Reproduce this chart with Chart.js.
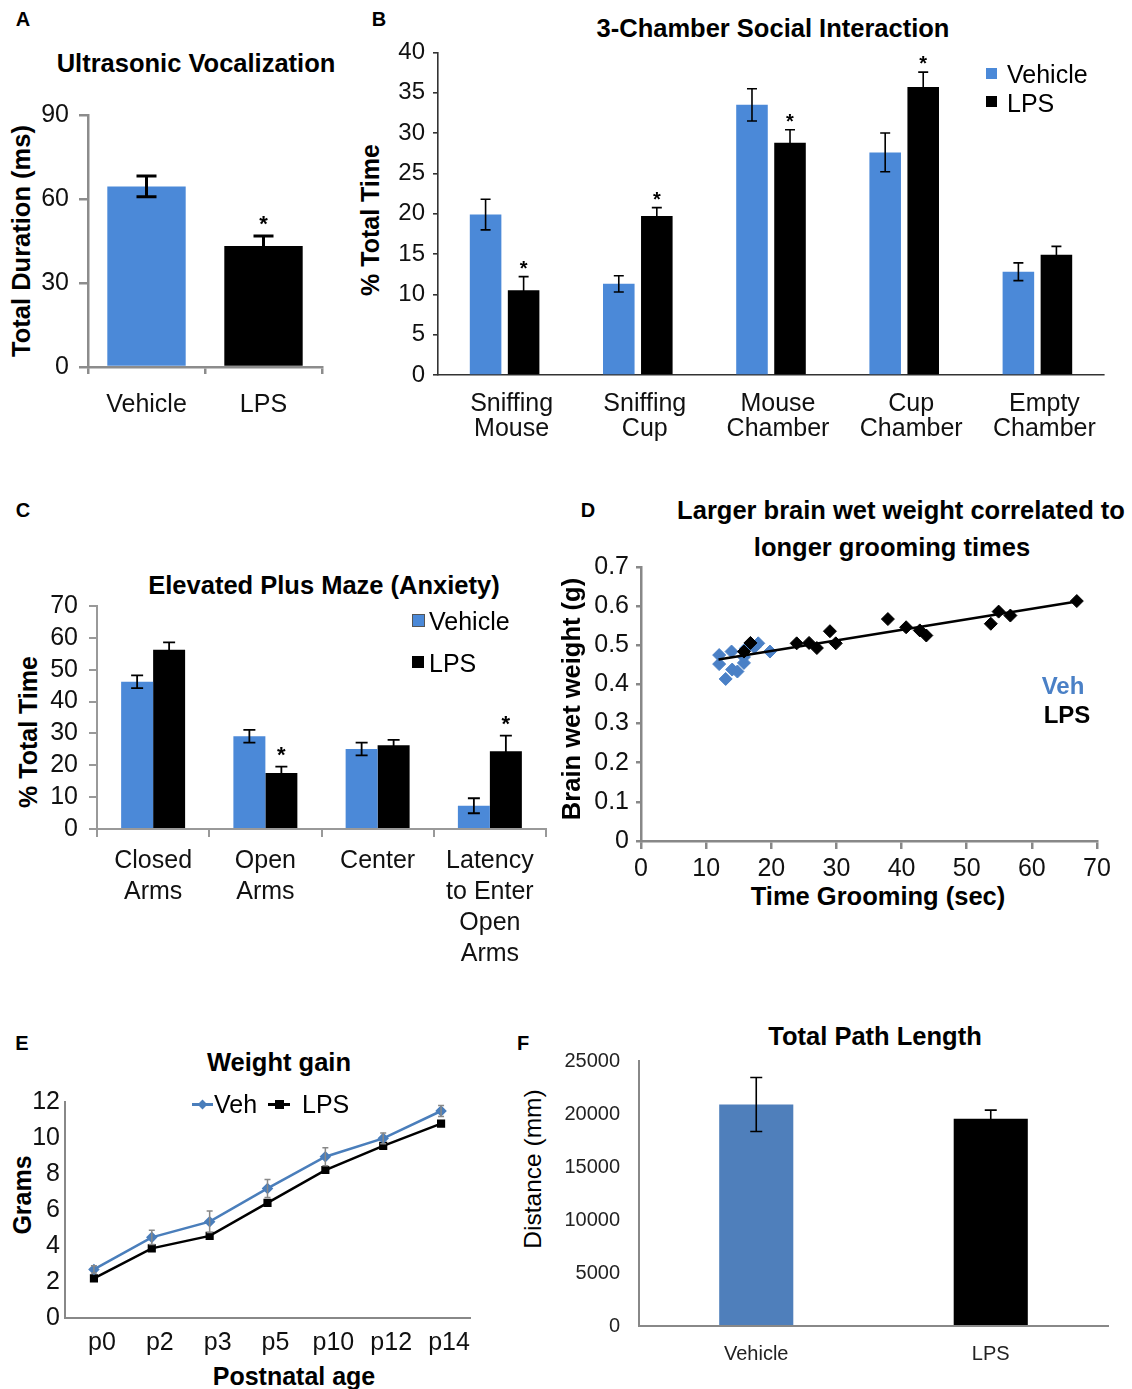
<!DOCTYPE html>
<html>
<head>
<meta charset="utf-8">
<script src="https://cdn.jsdelivr.net/npm/chart.js@4.4.1/dist/chart.umd.min.js"></script>
<style>
html, body { margin: 0; padding: 0; background: #fff; }
body { width: 1132px; height: 1389px; position: relative; overflow: hidden; font-family: "Liberation Sans", Arial, sans-serif; color: #000; }
canvas { position: absolute; }
.t { position: absolute; white-space: nowrap; line-height: 1; transform: translate(-50%, -50%); }
.b { font-weight: bold; }
.r { transform: translate(-50%, -50%) rotate(-90deg); }
.l { position: absolute; white-space: nowrap; line-height: 1; transform: translateY(-50%); }
.sw { position: absolute; }
</style>
</head>
<body>
<!-- panel letters -->
<div class="t b" style="left:23px;top:19px;font-size:20px">A</div>
<div class="t b" style="left:379px;top:19px;font-size:20px">B</div>
<div class="t b" style="left:23px;top:510px;font-size:20px">C</div>
<div class="t b" style="left:588px;top:510px;font-size:20px">D</div>
<div class="t b" style="left:22px;top:1043px;font-size:20px">E</div>
<div class="t b" style="left:523px;top:1043px;font-size:20px">F</div>

<!-- A -->
<div class="t b" style="left:196px;top:64px;font-size:25.5px">Ultrasonic Vocalization</div>
<div class="t b r" style="left:22px;top:241px;font-size:25.5px">Total Duration (ms)</div>
<canvas id="cA" width="345" height="340" style="left:0;top:90px"></canvas>

<!-- B -->
<div class="t b" style="left:773px;top:29px;font-size:25.5px">3-Chamber Social Interaction</div>
<div class="t b r" style="left:370px;top:220px;font-size:25px">% Total Time</div>
<canvas id="cB" width="790" height="430" style="left:340px;top:30px"></canvas>
<div class="sw" style="left:986px;top:68px;width:11px;height:11px;background:#4b89d8"></div>
<div class="l" style="left:1007px;top:74px;font-size:25px">Vehicle</div>
<div class="sw" style="left:986px;top:96px;width:11px;height:11px;background:#000"></div>
<div class="l" style="left:1007px;top:103px;font-size:25px">LPS</div>

<!-- C -->
<div class="t b" style="left:324px;top:586px;font-size:25.5px">Elevated Plus Maze (Anxiety)</div>
<div class="t b r" style="left:28px;top:732px;font-size:25px">% Total Time</div>
<canvas id="cC" width="560" height="410" style="left:0;top:580px"></canvas>
<div class="sw" style="left:412px;top:614px;width:11px;height:11px;background:#4b89d8;border:1px solid #555"></div>
<div class="l" style="left:429px;top:621px;font-size:25px">Vehicle</div>
<div class="sw" style="left:412px;top:656px;width:12px;height:12px;background:#000"></div>
<div class="l" style="left:429px;top:663px;font-size:25px">LPS</div>

<!-- D -->
<div class="t b" style="left:901px;top:511px;font-size:25.5px">Larger brain wet weight correlated to</div>
<div class="t b" style="left:892px;top:548px;font-size:25.5px">longer grooming times</div>
<div class="t b r" style="left:572px;top:699px;font-size:25.5px">Brain wet weight (g)</div>
<div class="t b" style="left:878px;top:897px;font-size:25.5px">Time Grooming (sec)</div>
<canvas id="cD" width="570" height="345" style="left:560px;top:545px"></canvas>
<div class="t b" style="left:1063px;top:686px;font-size:24px;color:#4a80c6">Veh</div>
<div class="t b" style="left:1067px;top:715px;font-size:24px">LPS</div>

<!-- E -->
<div class="t b" style="left:279px;top:1063px;font-size:25.5px">Weight gain</div>
<div class="t b r" style="left:22px;top:1195px;font-size:25px">Grams</div>
<div class="t b" style="left:294px;top:1376px;font-size:25px">Postnatal age</div>
<canvas id="cE" width="490" height="311" style="left:0;top:1078px"></canvas>
<div class="sw" style="left:192px;top:1103px;width:21px;height:3px;background:#4a7ebb"></div>
<div class="sw" style="left:199px;top:1101px;width:7px;height:7px;background:#4a7ebb;transform:rotate(45deg)"></div>
<div class="l" style="left:214px;top:1104px;font-size:25px">Veh</div>
<div class="sw" style="left:268px;top:1103px;width:22px;height:3px;background:#000"></div>
<div class="sw" style="left:275px;top:1100px;width:9px;height:9px;background:#000"></div>
<div class="l" style="left:302px;top:1104px;font-size:25px">LPS</div>

<!-- F -->
<div class="t b" style="left:875px;top:1037px;font-size:25.5px">Total Path Length</div>
<div class="t r" style="left:533px;top:1169px;font-size:24.5px">Distance (mm)</div>
<canvas id="cF" width="590" height="359" style="left:540px;top:1030px"></canvas>

<script>
const FONT = '"Liberation Sans", Arial, sans-serif';

// A: ultrasonic vocalization
const usvLabels = ['Vehicle', 'LPS'];
const usvMeans = [64.5, 43.2];
const usvErr = [3.7, 3.6];
const usvStars = [false, true];

// B: 3-chamber social interaction
const socialLabels = [['Sniffing', 'Mouse'], ['Sniffing', 'Cup'], ['Mouse', 'Chamber'], ['Cup', 'Chamber'], ['Empty', 'Chamber']];
const socialVeh = [19.9, 11.3, 33.5, 27.6, 12.8];
const socialVehErr = [1.9, 1.0, 2.0, 2.4, 1.1];
const socialLps = [10.5, 19.7, 28.8, 35.7, 14.9];
const socialLpsErr = [1.7, 1.05, 1.6, 1.85, 1.05];
const socialLpsStars = [true, true, true, true, false];

// C: elevated plus maze
const mazeLabels = [['Closed', 'Arms'], ['Open', 'Arms'], ['Center'], ['Latency', 'to Enter', 'Open', 'Arms']];
const mazeVeh = [46.2, 29.1, 25.1, 7.3];
const mazeVehErr = [2.0, 2.0, 2.0, 2.35];
const mazeLps = [56.3, 17.6, 26.3, 24.4];
const mazeLpsErr = [2.3, 2.0, 1.7, 4.9];
const mazeLpsStars = [false, true, false, true];

// D: brain weight vs grooming
const vehGroomX = [12.0, 12.0, 13.9, 13.0, 14.0, 14.8, 15.8, 15.8, 16.1, 17.4, 18.0, 19.8];
const vehBrainY = [0.475, 0.452, 0.484, 0.414, 0.438, 0.433, 0.455, 0.470, 0.492, 0.495, 0.505, 0.484];
const lpsGroomX = [15.8, 16.8, 23.9, 25.8, 27.0, 29.0, 29.9, 37.9, 40.7, 42.8, 43.8, 53.7, 54.9, 56.7, 66.9];
const lpsBrainY = [0.484, 0.506, 0.505, 0.506, 0.493, 0.536, 0.505, 0.567, 0.546, 0.538, 0.525, 0.555, 0.586, 0.576, 0.613];
const trendX = [11.9, 66.9];
const trendY = [0.4635, 0.612];

// E: weight gain
const ageLabels = ['p0', 'p2', 'p3', 'p5', 'p10', 'p12', 'p14'];
const weightVeh = [2.7, 4.48, 5.35, 7.2, 8.96, 9.98, 11.5];
const weightVehErr = [0.2, 0.4, 0.6, 0.5, 0.5, 0.3, 0.3];
const weightLps = [2.2, 3.87, 4.56, 6.4, 8.22, 9.56, 10.8];

// F: total path length
const pathLabels = ['Vehicle', 'LPS'];
const pathMeans = [20900, 19550];
const pathErr = [2550, 820];

const BAR_BLUE = '#4b89d8';
const F_BLUE = '#4f7fbb';
const LINE_BLUE = '#4a7ebb';
const D_BLUE = '#4a80c6';

Chart.defaults.font.family = FONT;
Chart.defaults.color = '#111';
Chart.defaults.animation = false;
Chart.defaults.plugins.legend.display = false;
Chart.defaults.plugins.tooltip.enabled = false;

const fixW = w => s => { s.width = w; };
const fixH = h => s => { s.height = h; };
const pts = (xs, ys) => xs.map((x, i) => ({ x: x, y: ys[i] }));

// error bars + significance stars drawn from the dataset's own values
const errorBars = {
    id: 'errorBars',
    afterDatasetsDraw(chart) {
        const ctx = chart.ctx;
        const yScale = chart.scales.y;
        chart.data.datasets.forEach((ds, di) => {
            if (!ds.errors) return;
            const st = ds.errStyle || {};
            const meta = chart.getDatasetMeta(di);
            meta.data.forEach((el, i) => {
                const v = ds.data[i];
                const e = ds.errors[i];
                const x = el.x;
                const top = yScale.getPixelForValue(v + e);
                const bot = yScale.getPixelForValue(v - e);
                const cap = st.cap ?? 5;
                ctx.save();
                ctx.strokeStyle = st.color || '#000';
                ctx.lineWidth = st.width || 1.5;
                ctx.beginPath();
                ctx.moveTo(x, top); ctx.lineTo(x, bot);
                ctx.moveTo(x - cap, top); ctx.lineTo(x + cap, top);
                ctx.moveTo(x - cap, bot); ctx.lineTo(x + cap, bot);
                ctx.stroke();
                if (ds.stars && ds.stars[i]) {
                    ctx.fillStyle = '#000';
                    ctx.font = `bold ${st.starSize || 20}px ${FONT}`;
                    ctx.textAlign = 'center';
                    ctx.textBaseline = 'alphabetic';
                    ctx.fillText('*', x, top - (st.starGap ?? 4));
                }
                ctx.restore();
            });
        });
    }
};

function axis(color, width, tickLength, extra) {
    return Object.assign({
        border: { color: color, width: width },
        grid: { drawOnChartArea: false, drawTicks: tickLength > 0, tickLength: tickLength, color: color, lineWidth: width }
    }, extra);
}

// A
new Chart(document.getElementById('cA'), {
    type: 'bar',
    data: {
        labels: usvLabels,
        datasets: [{
            data: usvMeans, backgroundColor: [BAR_BLUE, '#000'],
            barPercentage: 0.67, categoryPercentage: 1,
            errors: usvErr, stars: usvStars,
            errStyle: { width: 3, cap: 10, starSize: 22, starGap: 4.5 }
        }]
    },
    options: {
        responsive: false,
        layout: { padding: { top: 23, right: 23, left: 0, bottom: 0 } },
        scales: {
            x: axis('#8c8c8c', 2.5, 7, { afterFit: fixH(63), ticks: { font: { size: 25 }, padding: 16, maxRotation: 0, autoSkip: false } }),
            y: axis('#8c8c8c', 2.5, 9, { min: 0, max: 90, afterFit: fixW(88), ticks: { stepSize: 30, autoSkip: false, font: { size: 25 }, padding: 10 } })
        }
    },
    plugins: [errorBars]
});

// B
new Chart(document.getElementById('cB'), {
    type: 'bar',
    data: {
        labels: socialLabels,
        datasets: [
            { data: socialVeh, backgroundColor: BAR_BLUE, errors: socialVehErr, errStyle: { width: 1.6, cap: 5 } },
            { data: socialLps, backgroundColor: '#000', errors: socialLpsErr, stars: socialLpsStars, errStyle: { width: 1.6, cap: 5, starSize: 20, starGap: 2 } }
        ]
    },
    options: {
        responsive: false,
        datasets: { bar: { categoryPercentage: 0.571, barPercentage: 0.83 } },
        layout: { padding: { top: 22, right: 26, left: 0, bottom: 0 } },
        scales: {
            x: axis('#333', 1.6, 0, { afterFit: fixH(85), ticks: { font: { size: 25, lineHeight: 1.0 }, padding: 17, labelOffset: 7, maxRotation: 0, autoSkip: false } }),
            y: axis('#333', 1.6, 5, { min: 0, max: 40, afterFit: fixW(98), ticks: { stepSize: 5, autoSkip: false, font: { size: 24 }, padding: 8 } })
        }
    },
    plugins: [errorBars]
});

// C
new Chart(document.getElementById('cC'), {
    type: 'bar',
    data: {
        labels: mazeLabels,
        datasets: [
            { data: mazeVeh, backgroundColor: BAR_BLUE, errors: mazeVehErr, errStyle: { width: 1.8, cap: 6 } },
            { data: mazeLps, backgroundColor: '#000', errors: mazeLpsErr, stars: mazeLpsStars, errStyle: { width: 1.8, cap: 6, starSize: 22, starGap: 4.5 } }
        ]
    },
    options: {
        responsive: false,
        datasets: { bar: { categoryPercentage: 0.57, barPercentage: 1.0 } },
        layout: { padding: { top: 21, right: 14, left: 0, bottom: 0 } },
        scales: {
            x: axis('#999', 2, 8, { afterFit: fixH(161), ticks: { font: { size: 25, lineHeight: 1.24 }, padding: 9, maxRotation: 0, autoSkip: false } }),
            y: axis('#999', 2, 8, { min: 0, max: 70, afterFit: fixW(97), ticks: { stepSize: 10, autoSkip: false, font: { size: 25 }, padding: 11 } })
        }
    },
    plugins: [errorBars]
});

// D
new Chart(document.getElementById('cD'), {
    type: 'scatter',
    data: {
        datasets: [
            { type: 'line', data: pts(trendX, trendY), borderColor: '#000', borderWidth: 2.5, pointRadius: 0, fill: false },
            { data: pts(lpsGroomX, lpsBrainY), pointStyle: 'rectRot', pointRadius: 6.5, backgroundColor: '#000', borderColor: '#000' },
            { data: pts(vehGroomX, vehBrainY), pointStyle: 'rectRot', pointRadius: 6.5, backgroundColor: D_BLUE, borderColor: D_BLUE }
        ]
    },
    options: {
        responsive: false,
        layout: { padding: { top: 20, right: 33, left: 0, bottom: 0 } },
        scales: {
            x: axis('#888', 2.5, 8, { type: 'linear', min: 0, max: 70, afterFit: fixH(49), ticks: { stepSize: 10, autoSkip: false, font: { size: 25 }, padding: 5 } }),
            y: axis('#888', 2.5, 5, { min: 0, max: 0.7, afterFit: fixW(81), ticks: { stepSize: 0.1, autoSkip: false, font: { size: 25 }, padding: 7, callback: v => v === 0 ? '0' : v.toFixed(1) } })
        }
    }
});

// E
new Chart(document.getElementById('cE'), {
    type: 'line',
    data: {
        labels: ageLabels,
        datasets: [
            { data: weightVeh, borderColor: LINE_BLUE, backgroundColor: LINE_BLUE, borderWidth: 2.5, pointStyle: 'rectRot', pointRadius: 4, tension: 0,
              errors: weightVehErr, errStyle: { color: '#888', width: 1.5, cap: 3 } },
            { data: weightLps, borderColor: '#000', backgroundColor: '#000', borderWidth: 2.5, pointStyle: 'rect', pointRadius: 4, tension: 0 }
        ]
    },
    options: {
        responsive: false,
        layout: { padding: { top: 24, right: 20, left: 0, bottom: 0 } },
        scales: {
            x: axis('#888', 2, 0, { offset: true, afterFit: fixH(71), ticks: { font: { size: 25 }, padding: 10, labelOffset: 8, maxRotation: 0, autoSkip: false } }),
            y: axis('#888', 2, 0, { min: 0, max: 12, afterFit: fixW(65), ticks: { stepSize: 2, autoSkip: false, font: { size: 25 }, padding: 5 } })
        }
    },
    plugins: [errorBars]
});

// F
new Chart(document.getElementById('cF'), {
    type: 'bar',
    data: {
        labels: pathLabels,
        datasets: [{
            data: pathMeans, backgroundColor: [F_BLUE, '#000'],
            barPercentage: 0.316, categoryPercentage: 1,
            errors: pathErr, errStyle: { width: 1.6, cap: 6 }
        }]
    },
    options: {
        responsive: false,
        layout: { padding: { top: 21, right: 22, left: 0, bottom: 0 } },
        scales: {
            x: axis('#888', 2, 0, { afterFit: fixH(63), ticks: { font: { size: 20 }, padding: 16, maxRotation: 0, autoSkip: false, color: '#222' } }),
            y: axis('#888', 2, 0, { min: 0, max: 25000, afterFit: fixW(99), ticks: { stepSize: 5000, autoSkip: false, font: { size: 20 }, padding: 19, color: '#222', callback: v => String(v) } })
        }
    },
    plugins: [errorBars]
});
</script>
</body>
</html>
